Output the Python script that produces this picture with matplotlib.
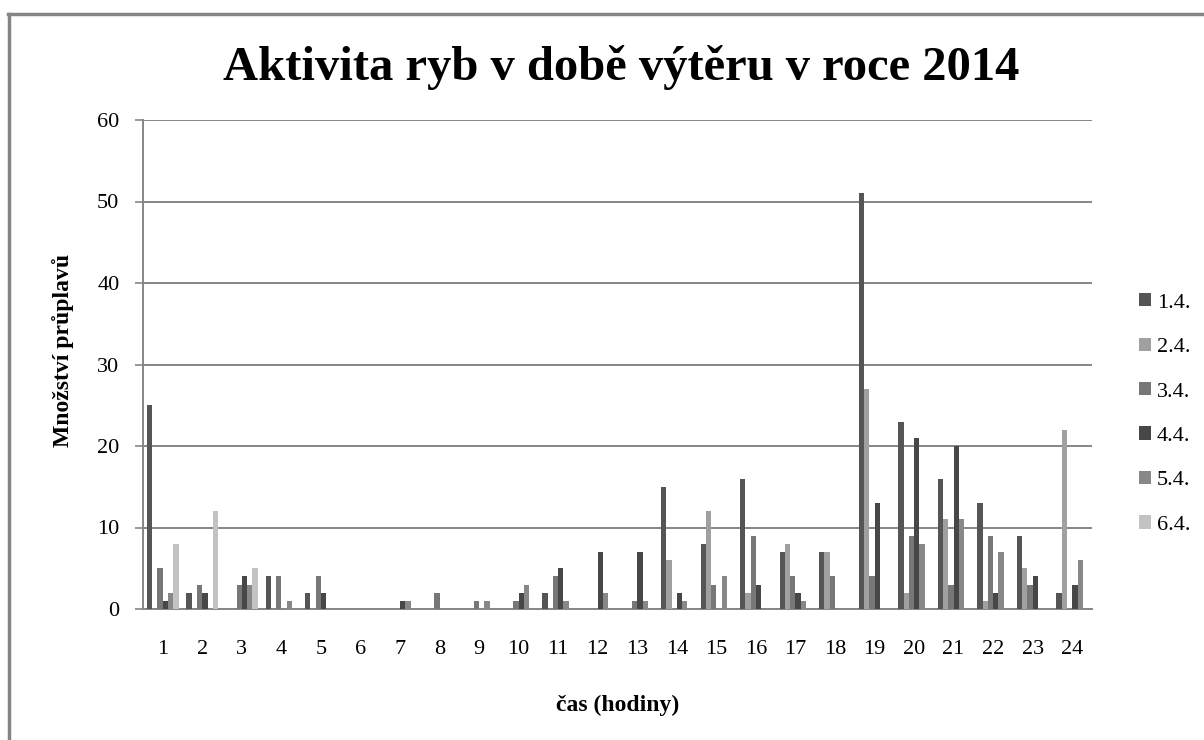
import matplotlib.pyplot as plt
import numpy as np
from matplotlib.patches import Patch
from matplotlib.lines import Line2D

hours = [str(h) for h in range(1, 25)]
days = ["1.4.", "2.4.", "3.4.", "4.4.", "5.4.", "6.4."]

# values per day, one per hour 1..24
d1 = [25, 2, 0, 4, 2, 0, 0, 0, 0, 0, 2, 0, 0, 15, 8, 16, 7, 7, 51, 23, 16, 13, 9, 2]
d2 = [0, 0, 0, 0, 0, 0, 0, 0, 0, 0, 0, 0, 0, 6, 12, 2, 8, 7, 27, 2, 11, 1, 5, 22]
d3 = [5, 3, 3, 4, 4, 0, 0, 2, 1, 1, 4, 0, 1, 0, 3, 9, 4, 4, 4, 9, 3, 9, 3, 0]
d4 = [1, 2, 4, 0, 2, 0, 1, 0, 0, 2, 5, 7, 7, 2, 0, 3, 2, 0, 13, 21, 20, 2, 4, 3]
d5 = [2, 0, 3, 1, 0, 0, 1, 0, 1, 3, 1, 2, 1, 1, 4, 0, 1, 0, 0, 8, 11, 7, 0, 6]
d6 = [8, 12, 5, 0, 0, 0, 0, 0, 0, 0, 0, 0, 0, 0, 0, 0, 0, 0, 0, 0, 0, 0, 0, 0]
series = [d1, d2, d3, d4, d5, d6]
colors = ["#555555", "#a0a0a0", "#777777", "#474747", "#888888", "#c3c3c3"]

serif = ["Liberation Serif", "DejaVu Serif"]

fig = plt.figure(figsize=(12.04, 7.4), dpi=100)
ax = fig.add_axes([143 / 1204, 1 - 609 / 740, (1092 - 143) / 1204, (609 - 120) / 740])

x = np.arange(len(hours))
w = 1 / 7.5
for i, (vals, c) in enumerate(zip(series, colors)):
    ax.bar(x + (i - 2.5) * w, vals, width=w, color=c, linewidth=0, zorder=3)

ax.set_xlim(-0.5, len(hours) - 0.5)
ax.set_ylim(0, 60)
ax.set_yticks(range(0, 61, 10))
ax.set_xticks(x)
ax.set_xticklabels(hours)
ax.grid(axis="y", color="#868686", linewidth=1.4, zorder=0)
ax.tick_params(axis="x", length=0, pad=22, labelsize=16)
ax.tick_params(axis="y", length=6, width=1.2, color="#868686", pad=11, labelsize=16)
for lab in ax.get_xticklabels() + ax.get_yticklabels():
    lab.set_family(serif)
for s in ["top", "right"]:
    ax.spines[s].set_visible(False)
for s in ["left", "bottom"]:
    ax.spines[s].set_color("#868686")
    ax.spines[s].set_linewidth(1.4)

ax.set_ylabel("Množství průplavů", family=serif, fontsize=17, fontweight="bold", va="center")
ax.yaxis.set_label_coords((63 - 143) / 949, (609 - 350) / 489)
ax.set_xlabel("čas (hodiny)", family=serif, fontsize=17, fontweight="bold", va="center")
ax.xaxis.set_label_coords(0.5, (609 - 705) / 489)

fig.text(621 / 1204, 1 - 68 / 740, "Aktivita ryb v době výtěru v roce 2014", family=serif,
         fontsize=35, fontweight="bold", ha="center", va="center")

handles = [Patch(facecolor=c, edgecolor="none") for c in colors]
fig.legend(handles, days, loc="center left", bbox_to_anchor=(1130 / 1204, 1 - 414 / 740),
           frameon=False, prop={"family": serif, "size": 16}, handlelength=0.55,
           handleheight=0.55, handletextpad=0.25, labelspacing=1.12, borderaxespad=0)

# outer chart frame (only top and left visible)
fig.add_artist(Line2D([8 / 1204, 1], [1 - 13.5 / 740] * 2, color="#858585", linewidth=2.5,
                      transform=fig.transFigure))
fig.add_artist(Line2D([8.5 / 1204] * 2, [0, 1 - 13.5 / 740], color="#858585", linewidth=2.5,
                      transform=fig.transFigure))

fig.savefig("out.png", dpi=100)
